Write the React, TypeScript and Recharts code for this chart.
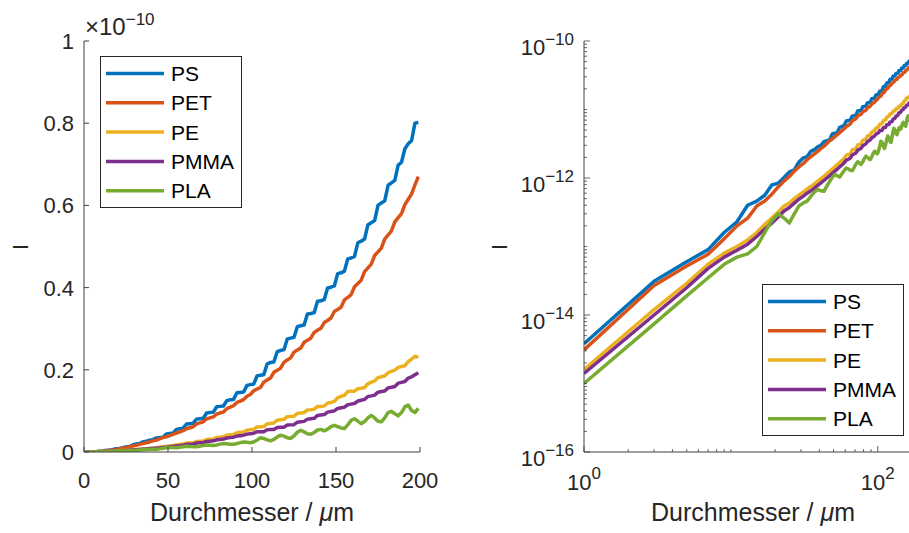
import { LineChart, Line, XAxis, YAxis, Legend } from "recharts"

// Durchmesser in µm (odd steps)
const DIAMETER = [
  1, 3, 5, 7, 9, 11, 13, 15, 17, 19,
  21, 23, 25, 27, 29, 31, 33, 35, 37, 39,
  41, 43, 45, 47, 49, 51, 53, 55, 57, 59,
  61, 63, 65, 67, 69, 71, 73, 75, 77, 79,
  81, 83, 85, 87, 89, 91, 93, 95, 97, 99,
  101, 103, 105, 107, 109, 111, 113, 115, 117, 119,
  121, 123, 125, 127, 129, 131, 133, 135, 137, 139,
  141, 143, 145, 147, 149, 151, 153, 155, 157, 159,
  161, 163, 165, 167, 169, 171, 173, 175, 177, 179,
  181, 183, 185, 187, 189, 191, 193, 195, 197, 199,
]

// intensities in units of 1e-10
const PS = [
  0.000038, 0.00031, 0.0006, 0.0009, 0.0016, 0.0023, 0.004, 0.0046, 0.0056, 0.0079,
  0.0084, 0.0102, 0.0123, 0.0131, 0.017, 0.0195, 0.0205, 0.0245, 0.026, 0.0285,
  0.03, 0.034, 0.035, 0.036, 0.044, 0.045, 0.046, 0.055, 0.0565, 0.058,
  0.068, 0.069, 0.07, 0.08, 0.081, 0.082, 0.095, 0.096, 0.097, 0.11,
  0.111, 0.112, 0.125, 0.127, 0.128, 0.144, 0.145, 0.146, 0.162, 0.164,
  0.165, 0.185, 0.187, 0.188, 0.214, 0.218, 0.219, 0.244, 0.247, 0.249,
  0.275, 0.277, 0.279, 0.305, 0.307, 0.309, 0.336, 0.337, 0.339, 0.367,
  0.368, 0.371, 0.399, 0.401, 0.404, 0.434, 0.436, 0.44, 0.47, 0.472,
  0.476, 0.509, 0.513, 0.518, 0.553, 0.558, 0.563, 0.6, 0.606, 0.611,
  0.649, 0.655, 0.661, 0.698, 0.705, 0.738, 0.75, 0.758, 0.8, 0.802,
]
const PET = [
  0.000031, 0.00027, 0.00052, 0.00077, 0.0013, 0.002, 0.0026, 0.0039, 0.0046, 0.0058,
  0.0074, 0.009, 0.0105, 0.0125, 0.0145, 0.0162, 0.0185, 0.0205, 0.0225, 0.0245,
  0.027, 0.029, 0.032, 0.035, 0.037, 0.04, 0.043, 0.046, 0.049, 0.052,
  0.0565, 0.059, 0.0615, 0.0685, 0.071, 0.0735, 0.0805, 0.083, 0.0855, 0.0925,
  0.095, 0.0975, 0.1055, 0.109, 0.1125, 0.1205, 0.124, 0.1275, 0.1355, 0.14,
  0.149, 0.153, 0.157, 0.17, 0.175, 0.18, 0.194, 0.199, 0.204, 0.218,
  0.224, 0.229, 0.243, 0.248, 0.253, 0.267, 0.272, 0.277, 0.291, 0.296,
  0.301, 0.315, 0.32, 0.326, 0.342, 0.347, 0.352, 0.37, 0.376, 0.383,
  0.402, 0.41, 0.418, 0.439, 0.448, 0.457, 0.478, 0.487, 0.496, 0.518,
  0.528, 0.538, 0.56, 0.57, 0.58, 0.602, 0.615, 0.628, 0.65, 0.67,
]
const PE = [
  0.000016, 0.00012, 0.00029, 0.00055, 0.0008, 0.001, 0.00125, 0.0016, 0.0021, 0.0026,
  0.0032, 0.0039, 0.0043, 0.005, 0.0056, 0.0062, 0.0069, 0.0075, 0.0082, 0.009,
  0.0098, 0.0106, 0.0116, 0.0125, 0.0135, 0.0146, 0.0157, 0.0168, 0.018, 0.0193,
  0.0216, 0.022, 0.0223, 0.0258, 0.0263, 0.0268, 0.0304, 0.031, 0.0317, 0.0355,
  0.0362, 0.037, 0.0409, 0.0418, 0.0428, 0.0468, 0.0478, 0.0489, 0.053, 0.0545,
  0.0555, 0.061, 0.0615, 0.062, 0.0685, 0.0695, 0.0705, 0.0775, 0.0785, 0.0795,
  0.086, 0.0865, 0.087, 0.094, 0.095, 0.096, 0.1025, 0.103, 0.104, 0.111,
  0.111, 0.112, 0.119, 0.1205, 0.123, 0.132, 0.1355, 0.138, 0.147, 0.148,
  0.148, 0.154, 0.155, 0.157, 0.166, 0.17, 0.173, 0.181, 0.183, 0.185,
  0.193, 0.196, 0.199, 0.206, 0.208, 0.21, 0.22, 0.226, 0.233, 0.23,
]
const PMMA = [
  0.000014, 0.0001, 0.00025, 0.00048, 0.0007, 0.00088, 0.00108, 0.0014, 0.0018, 0.0022,
  0.0027, 0.0033, 0.0037, 0.0043, 0.0049, 0.0054, 0.006, 0.0065, 0.0071, 0.0078,
  0.0085, 0.0092, 0.01, 0.0108, 0.0117, 0.0126, 0.0135, 0.0145, 0.0155, 0.0166,
  0.0182, 0.0188, 0.0195, 0.0217, 0.0224, 0.0232, 0.0255, 0.0263, 0.0272, 0.0296,
  0.0305, 0.0315, 0.034, 0.035, 0.0361, 0.0387, 0.0398, 0.0409, 0.0435, 0.0446,
  0.0457, 0.0493, 0.0494, 0.0495, 0.0542, 0.0545, 0.0548, 0.0597, 0.0601, 0.0605,
  0.0655, 0.066, 0.0665, 0.0725, 0.0735, 0.0745, 0.08, 0.081, 0.082, 0.089,
  0.09, 0.091, 0.097, 0.0985, 0.1, 0.106, 0.1075, 0.109, 0.115, 0.1165,
  0.118, 0.124, 0.126, 0.128, 0.135, 0.1365, 0.1385, 0.1455, 0.147, 0.1485,
  0.156, 0.1575, 0.1595, 0.1675, 0.1695, 0.1715, 0.18, 0.183, 0.188, 0.193,
]
const PLA = [
  0.00001, 0.000074, 0.00019, 0.00035, 0.00055, 0.0007, 0.00078, 0.001, 0.0016, 0.0024,
  0.003, 0.0026, 0.0022, 0.003, 0.0039, 0.0043, 0.0046, 0.0054, 0.0062, 0.0068,
  0.0065, 0.0064, 0.0076, 0.0089, 0.0102, 0.0112, 0.0108, 0.0103, 0.0115, 0.0128,
  0.014, 0.0136, 0.013, 0.0128, 0.0142, 0.016, 0.0172, 0.0166, 0.0158, 0.0172,
  0.0192, 0.0208, 0.02, 0.019, 0.0186, 0.0205, 0.0228, 0.0245, 0.0238, 0.0225,
  0.0245, 0.029, 0.0345, 0.033, 0.0295, 0.027, 0.0305, 0.0365, 0.041, 0.0385,
  0.0345, 0.033, 0.0395, 0.048, 0.053, 0.049, 0.0445, 0.043, 0.0475, 0.0535,
  0.055, 0.0515, 0.0555, 0.0615, 0.065, 0.062, 0.0585, 0.057, 0.066, 0.077,
  0.081, 0.075, 0.069, 0.074, 0.083, 0.089, 0.083, 0.075, 0.0735, 0.083,
  0.096, 0.099, 0.093, 0.088, 0.096, 0.11, 0.114, 0.101, 0.096, 0.106,
]

const SERIES = [
  { name: "PS", values: PS, color: "#0072BD" },
  { name: "PET", values: PET, color: "#D95319" },
  { name: "PE", values: PE, color: "#EDB120" },
  { name: "PMMA", values: PMMA, color: "#7E2F8E" },
  { name: "PLA", values: PLA, color: "#77AC30" },
]
const SERIES_ORDER = SERIES.map(s => s.name)

const UNIT = 1e-10

const LIN_X_TICKS = [0, 50, 100, 150, 200]
const LIN_Y_TICKS = [0, 0.2, 0.4, 0.6, 0.8, 1]
const LOG_X_MAJOR = [1, 100]
const LOG_Y_MAJOR = [1e-16, 1e-14, 1e-12, 1e-10]

const FONT = "'Liberation Sans', Arial, Helvetica, sans-serif"
const INK = "#262626"
const AXIS = "#404040"
const TICK_FS = 22
const SUP_FS = 17
const LINE_W = 3.5

const linearRows = DIAMETER.map((d, i) => {
  const row: Record<string, number> = { d }
  SERIES.forEach(s => { row[s.name] = s.values[i] })
  return row
})

const logRows = DIAMETER.map((d, i) => {
  const row: Record<string, number> = { d }
  SERIES.forEach(s => { row[s.name] = s.values[i] * UNIT })
  return row
})

// 1..9 in every decade between 10^from and 10^to
function decadeTicks(from: number, to: number) {
  const out: number[] = []
  for (let e = from; e < to; e++) {
    for (let k = 1; k < 10; k++) out.push(k * Math.pow(10, e))
  }
  out.push(Math.pow(10, to))
  return out
}

const LOG_X_TICKS = [...decadeTicks(0, 2), 200]
const LOG_Y_TICKS = decadeTicks(-16, -10)

const isMajor = (v: number, majors: number[]) => majors.some(m => Math.abs(v / m - 1) < 1e-6)
const exponent = (v: number) => Math.round(Math.log10(v))
const sup = (e: number) => (e < 0 ? "\u2212" + Math.abs(e) : String(e))

function LinLeftTick({ x, y, payload }: any) {
  return (
    <g>
      <line x1={x} y1={y} x2={x + 5} y2={y} stroke={AXIS} />
      <text x={x - 10} y={y + 8} textAnchor="end" fontSize={TICK_FS} fontFamily={FONT} fill={INK}>
        {payload.value}
      </text>
    </g>
  )
}

function LinBottomTick({ x, y, payload }: any) {
  return (
    <g>
      <line x1={x} y1={y} x2={x} y2={y - 5} stroke={AXIS} />
      <text x={x} y={y + 36} textAnchor="middle" fontSize={TICK_FS} fontFamily={FONT} fill={INK}>
        {payload.value}
      </text>
    </g>
  )
}

function LogLeftTick({ x, y, payload }: any) {
  const major = isMajor(payload.value, LOG_Y_MAJOR)
  return (
    <g>
      <line x1={x} y1={y} x2={x + (major ? 6 : 3)} y2={y} stroke={AXIS} strokeWidth={0.8} />
      {major && (
        <text x={x - 10} y={y + 14} textAnchor="end" fontSize={TICK_FS} fontFamily={FONT} fill={INK}>
          10<tspan dy={-10} fontSize={SUP_FS}>{sup(exponent(payload.value))}</tspan>
        </text>
      )}
    </g>
  )
}

function LogBottomTick({ x, y, payload }: any) {
  const major = isMajor(payload.value, LOG_X_MAJOR)
  return (
    <g>
      <line x1={x} y1={y} x2={x} y2={y - (major ? 6 : 3)} stroke={AXIS} strokeWidth={0.8} />
      {major && (
        <text x={x} y={y + 38} textAnchor="middle" fontSize={TICK_FS} fontFamily={FONT} fill={INK}>
          10<tspan dy={-11} fontSize={SUP_FS}>{sup(exponent(payload.value))}</tspan>
        </text>
      )}
    </g>
  )
}

function LegendBox({ payload }: any) {
  const items = [...(payload || [])].sort(
    (a: any, b: any) => SERIES_ORDER.indexOf(a.value) - SERIES_ORDER.indexOf(b.value)
  )
  return (
    <svg width={142} height={152} style={{ display: "block" }}>
      <rect x={0.5} y={0.5} width={141} height={151} fill="#fff" stroke={INK} strokeWidth={1} />
      {items.map((p: any, i: number) => {
        const cy = 17.5 + i * 29.3
        return (
          <g key={p.value}>
            <line x1={6} x2={64} y1={cy} y2={cy} stroke={p.color} strokeWidth={LINE_W} />
            <text x={71} y={cy + 7.5} fontSize={21} fontFamily={FONT} fill="#000">{p.value}</text>
          </g>
        )
      })}
    </svg>
  )
}

function XTitle({ cx }: { cx: number }) {
  return (
    <text x={cx} y={521} textAnchor="middle" fontSize={25} fontFamily={FONT} fill={INK}>
      Durchmesser / <tspan fontStyle="italic">μ</tspan>m
    </text>
  )
}

function YTitle({ x }: { x: number }) {
  return (
    <text transform={`translate(${x},247) rotate(-90)`} textAnchor="middle" fontSize={22} fontFamily={FONT} fill={INK}>
      I
    </text>
  )
}

const lines = SERIES.map(s => (
  <Line
    key={s.name}
    dataKey={s.name}
    name={s.name}
    type="linear"
    stroke={s.color}
    strokeWidth={LINE_W}
    strokeLinejoin="round"
    dot={false}
    activeDot={false}
    isAnimationActive={false}
  />
))

export default function App() {
  return (
    <div style={{ position: "fixed", left: 0, top: 0, width: 909, height: 533, overflow: "hidden", background: "#fff" }}>
      <div style={{ position: "absolute", left: 0, top: 0 }}>
        <LineChart width={460} height={533} data={linearRows} margin={{ top: 41, right: 40, bottom: 21, left: 24 }}>
          <XAxis
            dataKey="d"
            type="number"
            domain={[0, 200]}
            allowDataOverflow
            ticks={LIN_X_TICKS}
            interval={0}
            height={60}
            tickSize={0}
            tickMargin={0}
            tickLine={false}
            axisLine={{ stroke: AXIS }}
            tick={<LinBottomTick />}
            label={{ content: () => <XTitle cx={252} /> }}
          />
          <YAxis
            type="number"
            domain={[0, 1]}
            allowDataOverflow
            ticks={LIN_Y_TICKS}
            interval={0}
            width={60}
            tickSize={0}
            tickMargin={0}
            tickLine={false}
            axisLine={{ stroke: AXIS }}
            tick={<LinLeftTick />}
            label={{
              content: () => (
                <g>
                  <YTitle x={28} />
                  <text x={85} y={35} fontSize={24} fontFamily={FONT} fill={INK}>
                    ×10<tspan dy={-10} fontSize={SUP_FS}>{sup(-10)}</tspan>
                  </text>
                </g>
              ),
            }}
          />
          <Legend
            layout="vertical"
            align="center"
            verticalAlign="middle"
            wrapperStyle={{ left: 100, top: 56, width: 142, height: 152 }}
            content={(props: any) => <LegendBox payload={props.payload} />}
          />
          {lines}
        </LineChart>
      </div>
      <div style={{ position: "absolute", left: 460, top: 0 }}>
        <LineChart width={480} height={533} data={logRows} margin={{ top: 41, right: 18, bottom: 21, left: 64 }}>
          <XAxis
            dataKey="d"
            type="number"
            scale="log"
            domain={[1, 200]}
            allowDataOverflow
            ticks={LOG_X_TICKS}
            interval={0}
            height={60}
            tickSize={0}
            tickMargin={0}
            tickLine={false}
            axisLine={{ stroke: AXIS }}
            tick={<LogBottomTick />}
            label={{ content: () => <XTitle cx={293} /> }}
          />
          <YAxis
            type="number"
            scale="log"
            domain={[1e-16, 1e-10]}
            allowDataOverflow
            ticks={LOG_Y_TICKS}
            interval={0}
            width={60}
            tickSize={0}
            tickMargin={0}
            tickLine={false}
            axisLine={{ stroke: AXIS }}
            tick={<LogLeftTick />}
            label={{ content: () => <YTitle x={47} /> }}
          />
          <Legend
            layout="vertical"
            align="center"
            verticalAlign="middle"
            wrapperStyle={{ left: 302, top: 284, width: 142, height: 152 }}
            content={(props: any) => <LegendBox payload={props.payload} />}
          />
          {lines}
        </LineChart>
      </div>
    </div>
  )
}
